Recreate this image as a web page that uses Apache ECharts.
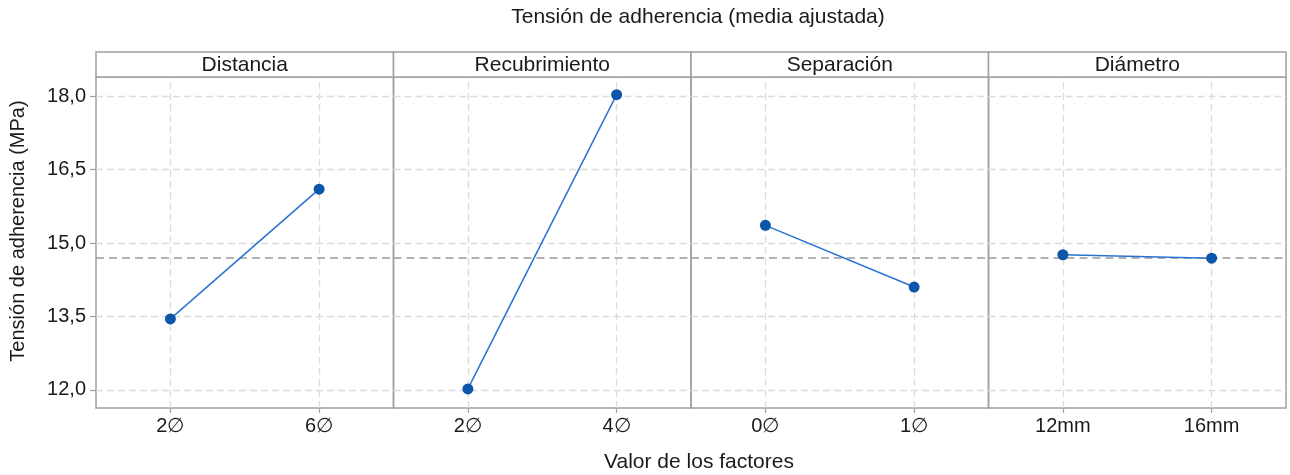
<!DOCTYPE html>
<html>
<head>
<meta charset="utf-8">
<script src="https://cdn.jsdelivr.net/npm/echarts@6/dist/echarts.min.js"></script>
<style>
html,body{margin:0;padding:0;background:#fff;}
#chart{width:1290px;height:475px;}
</style>
</head>
<body>
<div id="chart"></div>
<script>
// ---- data ----
const chartTitle = 'Tensión de adherencia (media ajustada)';
const yAxisTitle = 'Tensión de adherencia (MPa)';
const xAxisTitle = 'Valor de los factores';
const panels = ['Distancia', 'Recubrimiento', 'Separación', 'Diámetro'];
const catDistancia = ['2∅', '6∅'];
const catRecubrimiento = ['2∅', '4∅'];
const catSeparacion = ['0∅', '1∅'];
const catDiametro = ['12mm', '16mm'];
const valDistancia = [13.45, 16.10];
const valRecubrimiento = [12.02, 18.03];
const valSeparacion = [15.36, 14.10];
const valDiametro = [14.76, 14.69];
const meanValue = 14.69;
const yTicks = [12, 13.5, 15, 16.5, 18];
const yMin = 11.63;
const yMax = 18.39;

const cats = [catDistancia, catRecubrimiento, catSeparacion, catDiametro];
const vals = [valDistancia, valRecubrimiento, valSeparacion, valDiametro];

// ---- layout ----
const FONT = "'Liberation Sans', Arial, Helvetica, sans-serif";
const TXT = '#1a1a1a';
const BORDER = '#a0a0a0';
const plotLeft = 96, plotRight = 1286, plotTop = 77, plotBottom = 408, headTop = 52;
const pw = (plotRight - plotLeft) / panels.length;

const grids = [], xAxes = [], yAxes = [], series = [], graphics = [];

panels.forEach((p, i) => {
  const left = plotLeft + i * pw;
  grids.push({left: left, top: plotTop, width: pw, height: plotBottom - plotTop,
    show: true, borderColor: BORDER, borderWidth: 1.5, backgroundColor: 'transparent', containLabel: false});
  xAxes.push({type: 'category', gridIndex: i, data: cats[i], boundaryGap: true,
    axisLine: {show: false},
    axisTick: {show: true, alignWithLabel: true, length: 5, lineStyle: {color: BORDER, width: 1.2}},
    axisLabel: {fontSize: 20, fontFamily: FONT, color: TXT, margin: 8},
    splitLine: {show: false}});
  yAxes.push({type: 'value', gridIndex: i, min: yMin, max: yMax, show: i === 0,
    axisLine: {show: false},
    axisTick: {show: true, length: 6, customValues: yTicks, lineStyle: {color: BORDER, width: 1.2}},
    axisLabel: {customValues: yTicks, fontSize: 20, fontFamily: FONT, color: TXT, margin: 10,
      formatter: v => v.toFixed(1).replace('.', ',')},
    splitLine: {show: false}});
  // grid lines + mean reference line
  series.push({type: 'line', xAxisIndex: i, yAxisIndex: i, data: [null, null], silent: true, z: 1,
    symbol: 'none',
    markLine: {silent: true, symbol: 'none', z: 1, animation: false,
      label: {show: false},
      data: [
        ...yTicks.map(t => ({yAxis: t, lineStyle: {color: '#dcdcdc', type: [7, 4], width: 1.3}})),
        ...cats[i].map(c => ({xAxis: c, lineStyle: {color: '#dcdcdc', type: [7, 4], width: 1.3}})),
        {yAxis: meanValue, lineStyle: {color: '#9a9a9a', type: [8, 5], width: 1.6}}
      ]}});
  series.push({type: 'line', name: p, xAxisIndex: i, yAxisIndex: i, data: vals[i], z: 5,
    symbol: 'circle', symbolSize: 11, showSymbol: true,
    lineStyle: {color: '#2a72d2', width: 1.5},
    itemStyle: {color: '#0b56a8'}});
  // panel header
  graphics.push({type: 'rect', shape: {x: left, y: headTop, width: pw, height: plotTop - headTop},
    style: {fill: '#fff', stroke: BORDER, lineWidth: 1.5}, z: 10});
  graphics.push({type: 'text', x: left + pw / 2, y: (headTop + plotTop) / 2 + 1, z: 11,
    style: {text: p, fontSize: 21, fontFamily: FONT, fill: TXT, align: 'center', verticalAlign: 'middle'}});
});

graphics.push({type: 'text', x: (plotLeft + plotRight) / 2 + 7, y: 17,
  style: {text: chartTitle, fontSize: 21, fontFamily: FONT, fill: TXT, align: 'center', verticalAlign: 'middle'}});
graphics.push({type: 'text', x: (plotLeft + plotRight) / 2 + 8, y: 462,
  style: {text: xAxisTitle, fontSize: 21, fontFamily: FONT, fill: TXT, align: 'center', verticalAlign: 'middle'}});
graphics.push({type: 'text', x: 18, y: 231, rotation: Math.PI / 2,
  style: {text: yAxisTitle, fontSize: 20, fontFamily: FONT, fill: TXT, align: 'center', verticalAlign: 'middle'}});

const chart = echarts.init(document.getElementById('chart'), null, {renderer: 'canvas'});
chart.setOption({
  animation: false,
  backgroundColor: '#fff',
  grid: grids, xAxis: xAxes, yAxis: yAxes, series: series,
  graphic: graphics
});
</script>
</body>
</html>
